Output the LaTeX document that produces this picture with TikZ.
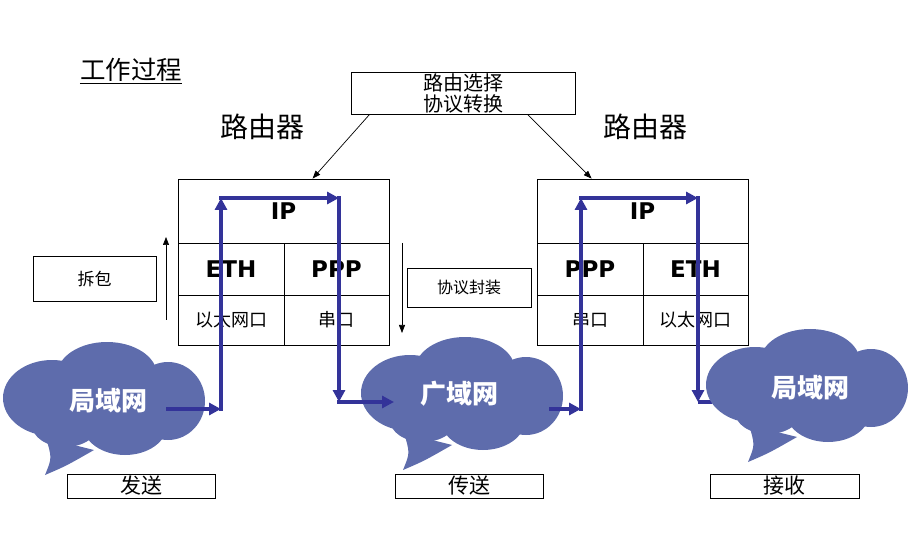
\documentclass[tikz,border=0pt]{standalone}
\usepackage{fontspec}
\setmainfont{Liberation Sans}
\newfontfamily\cjk{Noto Sans CJK SC}
\newfontfamily\protofont{DejaVu Sans}
\usetikzlibrary{arrows.meta}
\definecolor{cloudblue}{RGB}{94,108,172}
\definecolor{flowblue}{RGB}{51,51,153}
\tikzset{
  cell/.style={draw, line width=0.8pt, inner sep=0pt},
  box/.style={draw, line width=0.8pt, inner sep=0pt, align=center},
  proto/.style={font=\protofont\bfseries\fontsize{23}{25}\selectfont},
  port/.style={font=\cjk\fontsize{18}{20}\selectfont},
  flow/.style={flowblue, line width=3.5pt, -{Triangle[length=12pt,width=12pt]}},
  thinarrow/.style={line width=0.7pt, -{Triangle[length=8pt,width=6pt]}},
  cloudtxt/.style={text=white, font=\cjk\bfseries\fontsize{26}{28}\selectfont},
  lancloud/.pic={
    \fill[cloudblue] (3,-25) ellipse [x radius=50, y radius=33]
      (-52,-2) ellipse [x radius=49, y radius=38]
      (64,1) ellipse [x radius=37, y radius=39]
      (21,25) ellipse [x radius=42, y radius=30]
      (-39,25) ellipse [x radius=33, y radius=22]
      (0,0) ellipse [x radius=80, y radius=40];
    \fill[cloudblue] (-58,38) .. controls (-52,58) .. (-59,75)
      .. controls (-38,66) .. (-10,50) -- cycle;
  }
}
\begin{document}
\begin{tikzpicture}[x=1pt, y=-1pt]
  \useasboundingbox (0,0) rectangle (921,537);

  % 1. 标题与路由器标签
  \node[font=\cjk\fontsize{25.5}{27}\selectfont, inner sep=0pt] (title) at (131,70) {工作过程};
  \draw[line width=0.8pt] ([yshift=-4pt]title.base west) -- ([yshift=-4pt]title.base east);
  \node[font=\cjk\fontsize{28}{30}\selectfont] (rtL) at (262,127) {路由器};
  \node[font=\cjk\fontsize{28}{30}\selectfont] (rtR) at (645,127) {路由器};
  \node[box, minimum width=224pt, minimum height=42pt, font=\cjk\fontsize{20}{21}\selectfont] (sel) at (463,93) {路由选择\\协议转换};

  % 2. 左路由器协议栈
  \node[cell, proto, minimum width=211pt, minimum height=64pt] (ipL) at (283.5,211) {IP};
  \node[cell, proto, minimum width=106pt, minimum height=52pt] (ethL) at (231,269) {ETH};
  \node[cell, proto, minimum width=105pt, minimum height=52pt] (pppL) at (336.5,269) {PPP};
  \node[cell, port, minimum width=106pt, minimum height=50pt] (portL1) at (231,320) {以太网口};
  \node[cell, port, minimum width=105pt, minimum height=50pt] (portL2) at (336.5,320) {串口};

  % 3. 右路由器协议栈
  \node[cell, proto, minimum width=211pt, minimum height=64pt] (ipR) at (642.5,211) {IP};
  \node[cell, proto, minimum width=106pt, minimum height=52pt] (pppR) at (590,269) {PPP};
  \node[cell, proto, minimum width=105pt, minimum height=52pt] (ethR) at (695.5,269) {ETH};
  \node[cell, port, minimum width=106pt, minimum height=50pt] (portR1) at (590,320) {串口};
  \node[cell, port, minimum width=105pt, minimum height=50pt] (portR2) at (695.5,320) {以太网口};

  % 4. 拆包 / 协议封装
  \node[box, minimum width=123pt, minimum height=45pt, font=\cjk\fontsize{17}{20}\selectfont] (unpack) at (94.5,278.5) {拆包};
  \node[box, minimum width=124pt, minimum height=39pt, font=\cjk\fontsize{16}{19}\selectfont] (encap) at (469,287.5) {协议封装};
  \coordinate (upA) at (166,320);
  \coordinate (upB) at (166,237);
  \coordinate (dnA) at (402,243);
  \coordinate (dnB) at (402,333);
  \draw[thinarrow] (upA) -- (upB);
  \draw[thinarrow] (dnA) -- (dnB);
  \draw[thinarrow] ([xshift=19pt]sel.south west) -- ([xshift=135pt]ipL.north west);
  \draw[thinarrow] ([xshift=-48pt]sel.south east) -- ([xshift=55pt]ipR.north west);

  % 5. 网络云
  \draw[flowblue, line width=3.5pt] (698,402) -- (712,402);
  \pic (cl1) at (104,400) {lancloud};
  \pic (cl2) at (462,395) {lancloud};
  \pic (cl3) at (807,387) {lancloud};
  \node[cloudtxt] (lanL) at (108,401) {局域网};
  \node[cloudtxt] (wan) at (459,394) {广域网};
  \node[cloudtxt] (lanR) at (810,388) {局域网};

  % 6. 数据流向
  \coordinate (p1) at (166,409);
  \coordinate (p2) at (221,409);
  \coordinate (p3) at (221,198);
  \coordinate (p4) at (339,198);
  \coordinate (p5) at (339,402);
  \coordinate (p6) at (394,402);
  \coordinate (q1) at (549,409);
  \coordinate (q2) at (581,409);
  \coordinate (q3) at (581,198);
  \coordinate (q4) at (698,198);
  \coordinate (q5) at (698,402);
  \draw[flow] (p1) -- (p2);
  \draw[flow] ([yshift=-1.75pt]p2) -- (p3);
  \draw[flow] ([xshift=-1.75pt]p3) -- (p4);
  \draw[flow] ([yshift=1.75pt]p4) -- (p5);
  \draw[flow] ([xshift=-1.75pt]p5) -- (p6);
  \draw[flow] (q1) -- (q2);
  \draw[flow] ([yshift=-1.75pt]q2) -- (q3);
  \draw[flow] ([xshift=-1.75pt]q3) -- (q4);
  \draw[flow] ([yshift=1.75pt]q4) -- (q5);

  % 7. 底部说明
  \node[box, minimum width=148pt, minimum height=24pt, font=\cjk\fontsize{21}{22}\selectfont] (send) at (141,486) {发送};
  \node[box, minimum width=148pt, minimum height=24pt, font=\cjk\fontsize{21}{22}\selectfont] (trans) at (469,486) {传送};
  \node[box, minimum width=149pt, minimum height=24pt, font=\cjk\fontsize{21}{22}\selectfont] (recv) at (784.5,486) {接收};
\end{tikzpicture}
\end{document}
